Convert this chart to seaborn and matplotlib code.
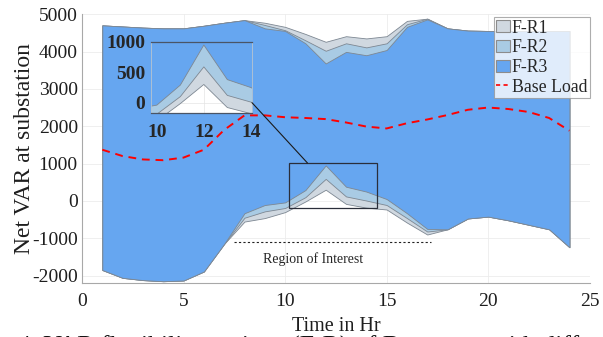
import matplotlib
matplotlib.use("Agg")
import seaborn as sns
import matplotlib.pyplot as plt
from matplotlib.patches import Patch, Rectangle, ConnectionPatch
from matplotlib.lines import Line2D

# hourly values
hours = list(range(1, 25))
base_load = [1370, 1200, 1110, 1090, 1160, 1370, 1900, 2290, 2290, 2240, 2220, 2190,
             2100, 1990, 1940, 2080, 2180, 2300, 2440, 2500, 2460, 2380, 2220, 1880]

fr1_upper = [4700, 4670, 4640, 4620, 4620, 4690, 4770, 4840, 4770, 4660, 4470, 4260,
             4410, 4350, 4410, 4820, 4880, 4620, 4560, 4550, 4550, 4550, 4550, 4550]
fr2_upper = [4700, 4670, 4640, 4620, 4620, 4690, 4770, 4840, 4710, 4570, 4300, 4020,
             4220, 4110, 4220, 4730, 4880, 4620, 4560, 4550, 4550, 4550, 4550, 4550]
fr3_upper = [4700, 4670, 4640, 4620, 4620, 4690, 4770, 4840, 4620, 4550, 4220, 3680,
             3990, 3900, 4040, 4660, 4860, 4620, 4560, 4550, 4550, 4550, 4550, 4550]

fr1_lower = [-1850, -2060, -2120, -2150, -2130, -1890, -1150, -553, -460, -300, -15, 300,
             -80, -180, -230, -580, -900, -760, -470, -420, -520, -640, -760, -1240]
fr2_lower = [-1850, -2060, -2120, -2150, -2130, -1890, -1150, -450, -280, -190, 100, 590,
             120, 10, -110, -460, -820, -760, -470, -420, -520, -640, -760, -1240]
fr3_lower = [-1850, -2060, -2120, -2150, -2130, -1890, -1150, -330, -110, -40, 290, 950,
             380, 250, 50, -330, -750, -760, -470, -420, -520, -640, -760, -1240]

region_names = ["F-R1", "F-R2", "F-R3"]
region_colors = ["#d0d8e0", "#a9cbe4", "#66a6f0"]
uppers = [fr1_upper, fr2_upper, fr3_upper]
lowers = [fr1_lower, fr2_lower, fr3_lower]

sns.set_style("whitegrid")
plt.rcParams["font.family"] = ["Liberation Serif", "DejaVu Serif"]
plt.rcParams["axes.unicode_minus"] = False

fig = plt.figure(figsize=(6.03, 3.37), dpi=100)
ax = fig.add_axes([0.136, 0.160, 0.842, 0.798])

edge = "#7d8792"
for name, col, up, lo in zip(region_names, region_colors, uppers, lowers):
    ax.fill_between(hours, lo, up, facecolor=col, edgecolor=edge, linewidth=0.6)
sns.lineplot(x=hours, y=base_load, ax=ax, color="red", linestyle=(0, (4, 3)),
             linewidth=1.4)

ax.set_xlim(0, 25)
ax.set_ylim(-2200, 5000)
ax.set_xticks([0, 5, 10, 15, 20, 25])
ax.set_yticks([-2000, -1000, 0, 1000, 2000, 3000, 4000, 5000])
ax.grid(True, color="#ececec", linewidth=0.6)
for s in ["top", "right"]:
    ax.spines[s].set_visible(False)
for s in ["left", "bottom"]:
    ax.spines[s].set_color("#a8a8a8")
    ax.spines[s].set_linewidth(0.8)
ax.tick_params(direction="in", length=3, color="#a8a8a8", labelsize=14,
               labelcolor="#1e1e1e")
ax.tick_params(axis="y", pad=3)
ax.tick_params(axis="x", pad=7)
ax.set_xlabel("Time in Hr", fontsize=14.5, labelpad=5, color="#1e1e1e")
ax.set_ylabel("Net VAR at substation", fontsize=17, labelpad=-2, color="#1e1e1e")

# region of interest
ax.plot([7.5, 17.2], [-1110, -1110], color="#222222", linestyle=(0, (2, 2)), linewidth=0.8)
ax.text(11.4, -1560, "Region of Interest", ha="center", va="center", fontsize=10)

# zoom box
ax.add_patch(Rectangle((10.19, -187), 4.33, 1203, fill=False, edgecolor="#2a2e3a",
                       linewidth=0.9, zorder=5))

handles = [Patch(facecolor=c, edgecolor="#8c8c8c", linewidth=0.8) for c in region_colors]
handles.append(Line2D([0], [0], color="red", linestyle=(0, (2.5, 2)), linewidth=1.2))
leg = ax.legend(handles, region_names + ["Base Load"], loc="upper right",
                bbox_to_anchor=(1.0, 0.99), fontsize=12.8, frameon=True,
                fancybox=False, borderaxespad=0, borderpad=0.15,
                handlelength=0.75, handleheight=0.65, handletextpad=0.1,
                labelspacing=0.15)
leg.get_frame().set_edgecolor("#999999")
leg.get_frame().set_linewidth(0.8)

# inset
ax_in = fig.add_axes([0.2504, 0.6647, 0.1675, 0.2107])
for name, col, up, lo in zip(region_names, region_colors, uppers, lowers):
    ax_in.fill_between(hours, lo, up, facecolor=col, edgecolor=edge, linewidth=0.6)
ax_in.set_xlim(9.75, 14.05)
ax_in.set_ylim(-170, 1000)
ax_in.set_xticks([10, 12, 14])
ax_in.set_yticks([0, 500, 1000])
ax_in.grid(True, color="#e4e4e4", linewidth=0.5)
ax_in.tick_params(length=0, labelsize=14)
ax_in.tick_params(axis="y", pad=4)
ax_in.tick_params(axis="x", pad=8)
for lab in ax_in.get_xticklabels() + ax_in.get_yticklabels():
    lab.set_fontweight("bold")
for s in ["top", "bottom"]:
    ax_in.spines[s].set_color("#4a5566")
    ax_in.spines[s].set_linewidth(0.9)
for s in ["left", "right"]:
    ax_in.spines[s].set_color("#b8c4d0")
    ax_in.spines[s].set_linewidth(0.6)

con = ConnectionPatch(xyA=(14.05, 0), coordsA=ax_in.transData,
                      xyB=(11.1, 1016), coordsB=ax.transData,
                      color="#1a1a1a", linewidth=0.8)
fig.add_artist(con)

# caption, cut off by the image edge
fig.text(0.03, 0.003, "4. VAR flexibility regions (F-R) of Base case with different DER",
         ha="left", va="top", fontsize=18.5, color="#111111")

fig.savefig("out.png", dpi=100)
